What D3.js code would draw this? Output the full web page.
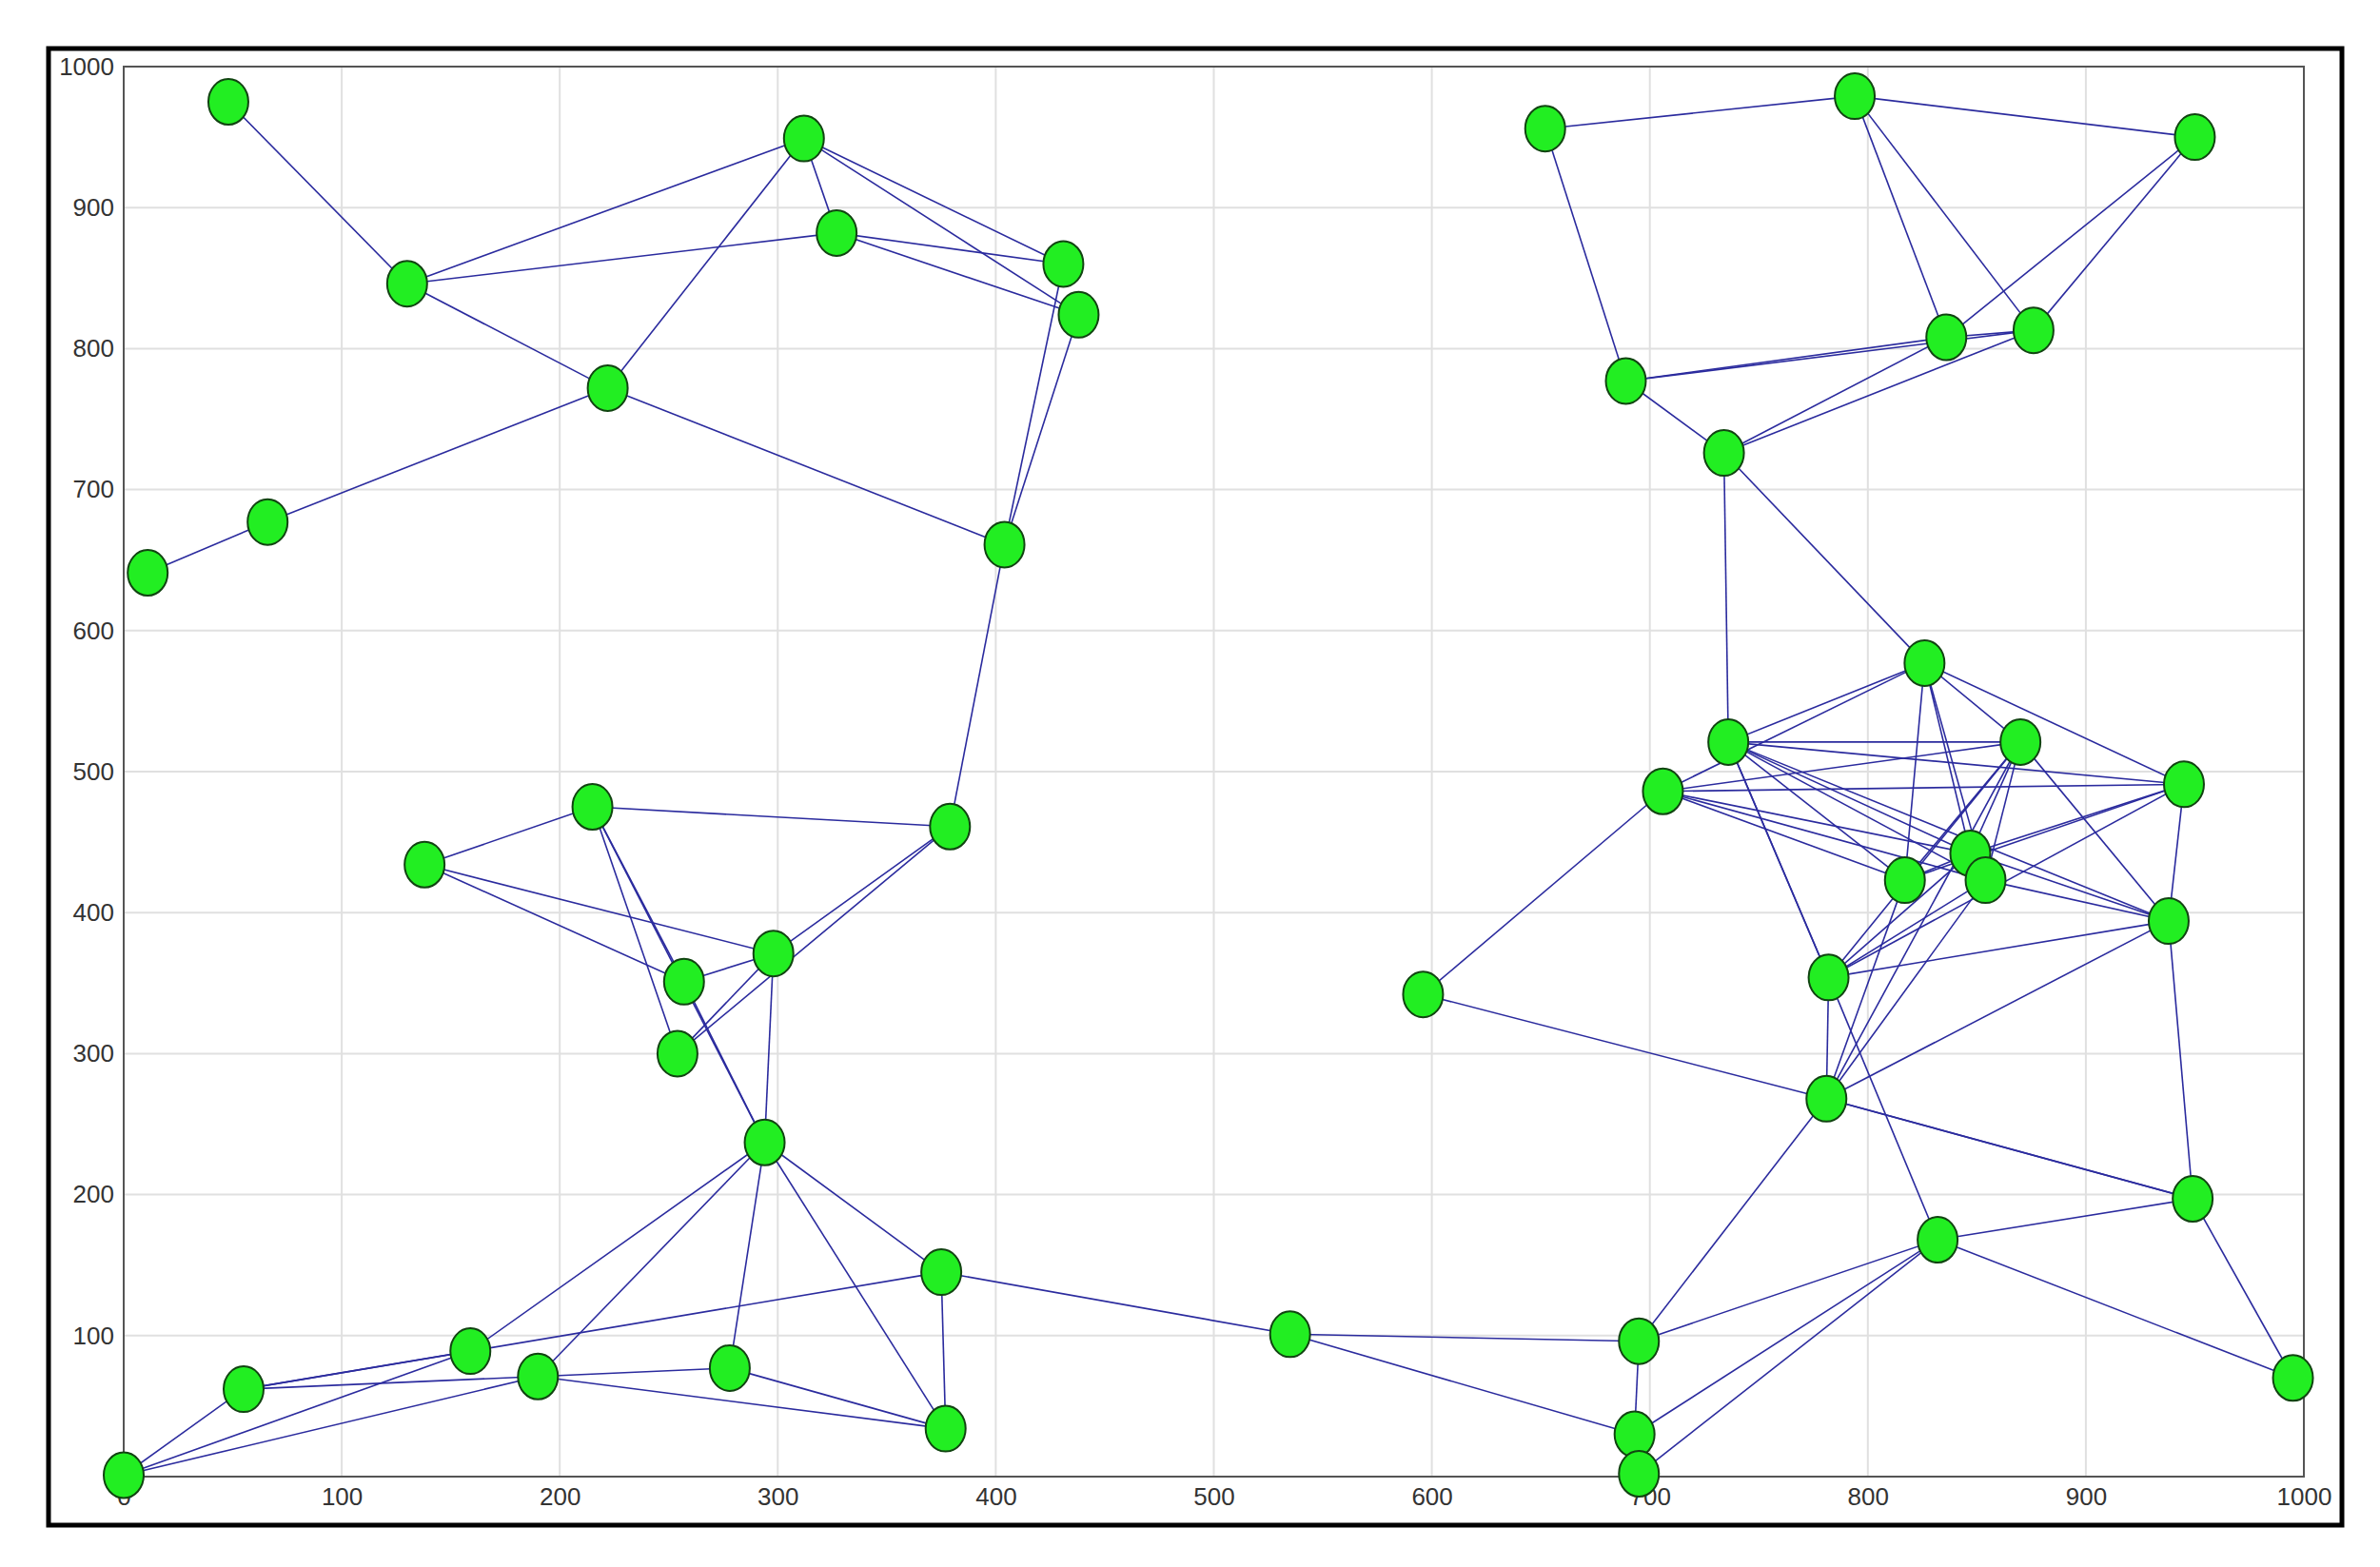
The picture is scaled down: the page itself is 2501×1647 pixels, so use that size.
<!DOCTYPE html><html><head><meta charset="utf-8">
<script src="https://cdn.jsdelivr.net/npm/d3@7"></script>
<style>body{margin:0;background:#fff}</style></head><body><svg id="c" width="2501" height="1647"></svg>
<script>
const nodeX=[48,312,327,130,431,438,222,66,11,404,652,794,950,836,876,689,734,826,736,870,706,945,847,817,854,938,782,596,781,949,832,995,695,693,695,535,375,377,294,138,215,379,257,298,254,159,190,278,55,0];
const nodeY=[975,949,882,846,860,824,772,677,641,661,956,979,950,808,813,777,726,577,521,521,486,491,442,423,423,394,354,342,268,197,168,70,96,30,2,101,145,34,237,434,475,461,351,371,300,89,71,77,62,1];
const edgeFrom=[1,4,4,4,8,8,7,7,2,2,2,3,3,5,6,10,42,42,42,41,40,40,41,41,41,43,44,44,39,39,39,39,39,37,37,37,46,46,47,47,47,50,50,48,36,36,33,34,33,33,34,35,31,30,31,29,29,29,29,28,28,29,26,19,27,17,17,17,16,11,12,12,12,13,13,16,16,17,17,14,18,18,18,18,18,18,18,19,19,19,19,19,19,19,21,21,21,21,21,20,20,20,20,20,22,22,22,22,23,23,25,26,26,26,29,29,39];
const edgeTo  =[4,2,3,7,9,7,10,2,3,5,6,5,6,10,10,42,41,44,45,40,44,43,43,45,39,44,45,39,37,38,46,47,48,38,36,49,49,50,48,38,49,49,47,38,33,34,34,35,29,31,31,31,30,32,32,30,27,26,25,21,29,30,30,27,31,19,18,16,11,12,13,14,15,14,15,14,15,14,15,15,19,21,20,22,23,24,25,20,22,23,24,25,26,27,20,22,23,24,25,23,24,25,26,27,23,24,26,27,24,27,27,27,23,25,20,24,43];
const ticks=[0,100,200,300,400,500,600,700,800,900,1000];
const svg=d3.select("#c");
const x=d3.scaleLinear().domain([0,1000]).range([130,2421]);
const y=d3.scaleLinear().domain([0,1000]).range([1552,70]);
svg.append("rect").attr("x",51).attr("y",51).attr("width",2410).attr("height",1552).attr("fill","#fff").attr("stroke","#000").attr("stroke-width",5);
const g=svg.append("g");
ticks.forEach(t=>{
 g.append("line").attr("x1",x(t)).attr("x2",x(t)).attr("y1",y(0)).attr("y2",y(1000)).attr("stroke","#e0e0e0").attr("stroke-width",2);
 g.append("line").attr("y1",y(t)).attr("y2",y(t)).attr("x1",x(0)).attr("x2",x(1000)).attr("stroke","#e0e0e0").attr("stroke-width",2);
});
g.append("rect").attr("x",x(0)).attr("y",y(1000)).attr("width",x(1000)-x(0)).attr("height",y(0)-y(1000)).attr("fill","none").attr("stroke","#555").attr("stroke-width",2);
const xa=svg.append("g").attr("transform",`translate(0,${y(0)})`).call(d3.axisBottom(x).tickValues(ticks).tickFormat(d3.format("d")).tickSize(0).tickPadding(12));
const ya=svg.append("g").attr("transform",`translate(${x(0)},0)`).call(d3.axisLeft(y).tickValues(ticks.slice(1)).tickFormat(d3.format("d")).tickSize(0).tickPadding(10));
[xa,ya].forEach(a=>{a.select(".domain").remove();a.selectAll("text").attr("font-family","Liberation Sans, Arial").attr("font-size",26).attr("fill","#333");});
const eg=svg.append("g");
edgeFrom.forEach((f,i)=>{const t=edgeTo[i]-1;
 eg.append("line").attr("x1",x(nodeX[f-1])).attr("y1",y(nodeY[f-1])).attr("x2",x(nodeX[t])).attr("y2",y(nodeY[t])).attr("stroke","#2b2b9e").attr("stroke-width",1.6);});
svg.append("g").selectAll("ellipse").data(nodeX).join("ellipse").attr("cx",(d)=>x(d)).attr("cy",(d,i)=>y(nodeY[i])).attr("rx",21).attr("ry",24).attr("fill","#22ee22").attr("stroke","#114411").attr("stroke-width",2);
</script></body></html>
